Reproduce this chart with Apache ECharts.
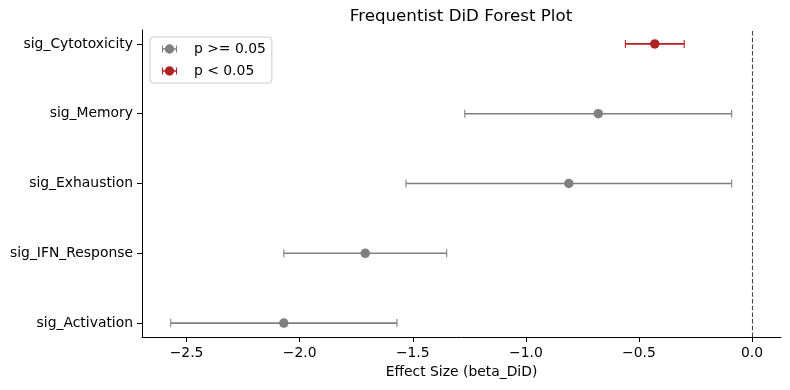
<!DOCTYPE html>
<html>
<head>
<meta charset="utf-8">
<script src="https://cdn.jsdelivr.net/npm/echarts@6/dist/echarts.min.js"></script>
<style>html,body{margin:0;padding:0;background:#fff;}#c{width:790px;height:390px;}</style>
</head>
<body>
<div id="c"></div>
<script>
// Categories listed bottom to top
const categories = ['sig_Activation', 'sig_IFN_Response', 'sig_Exhaustion', 'sig_Memory', 'sig_Cytotoxicity'];
const estimates = [-2.07, -1.71, -0.81, -0.68, -0.43];
const ciLow = [-2.57, -2.07, -1.53, -1.27, -0.56];
const ciHigh = [-1.57, -1.35, -0.09, -0.09, -0.30];
const significant = [false, false, false, false, true];
const xTicks = [-2.5, -2.0, -1.5, -1.0, -0.5, 0.0];
const yTicks = [0, 1, 2, 3, 4];

const GRAY = '#808080';
const RED = '#b22222';
const NAME_NS = 'p >= 0.05';
const NAME_S = 'p < 0.05';
const FONT = 'DejaVu Sans';

const ptsNS = [], ptsS = [], barsNS = [], barsS = [];
categories.forEach((c, i) => {
  if (significant[i]) {
    ptsS.push([estimates[i], i]);
    barsS.push([ciLow[i], ciHigh[i], i]);
  } else {
    ptsNS.push([estimates[i], i]);
    barsNS.push([ciLow[i], ciHigh[i], i]);
  }
});

function errRender(color) {
  return function (params, api) {
    const lo = api.coord([api.value(0), api.value(2)]);
    const hi = api.coord([api.value(1), api.value(2)]);
    const cap = 4;
    return {
      type: 'group',
      children: [
        { type: 'line', shape: { x1: lo[0], y1: lo[1], x2: hi[0], y2: hi[1] }, style: { stroke: color, lineWidth: 1.7 } },
        { type: 'line', shape: { x1: lo[0], y1: lo[1] - cap, x2: lo[0], y2: lo[1] + cap }, style: { stroke: color, lineWidth: 1.1 } },
        { type: 'line', shape: { x1: hi[0], y1: hi[1] - cap, x2: hi[0], y2: hi[1] + cap }, style: { stroke: color, lineWidth: 1.1 } }
      ]
    };
  };
}

const ICON = 'path://M0 4.3 H16 V5.7 H0 Z M0 1.3 H1.1 V8.7 H0 Z M14.9 1.3 H16 V8.7 H14.9 Z M3 5 A5 5 0 1 1 13 5 A5 5 0 1 1 3 5 Z';

const fmt = v => (v < 0 ? '\u2212' : '') + Math.abs(v).toFixed(1);

const chart = echarts.init(document.getElementById('c'), null, { renderer: 'canvas' });
chart.setOption({
  animation: false,
  backgroundColor: '#fff',
  textStyle: { fontFamily: FONT },
  title: {
    text: 'Frequentist DiD Forest Plot',
    left: 461,
    textAlign: 'center',
    top: 8,
    padding: 0,
    textStyle: { fontFamily: FONT, fontSize: 16.7, fontWeight: 'normal', color: '#000' }
  },
  legend: {
    orient: 'vertical',
    left: 150,
    top: 37,
    padding: [4, 6, 4, 12],
    itemGap: 6,
    itemWidth: 15,
    itemHeight: 9.5,
    borderColor: '#cccccc',
    borderWidth: 1,
    borderRadius: 3,
    backgroundColor: '#fff',
    selectedMode: false,
    textStyle: { fontFamily: FONT, fontSize: 13.9, color: '#000', lineHeight: 16, padding: [0, 0, 0, 12] },
    data: [
      { name: NAME_NS, icon: ICON, itemStyle: { color: GRAY } },
      { name: NAME_S, icon: ICON, itemStyle: { color: RED } }
    ]
  },
  grid: { left: 142, right: 9, top: 30, bottom: 53, containLabel: false },
  xAxis: {
    type: 'value',
    min: -2.697,
    max: 0.128,
    name: 'Effect Size (beta_DiD)',
    nameLocation: 'middle',
    nameGap: 27,
    nameTextStyle: { fontFamily: FONT, fontSize: 13.9, color: '#000' },
    axisLine: { show: true, onZero: false, lineStyle: { color: '#000', width: 1 } },
    axisTick: { show: true, length: 5, inside: false, customValues: xTicks, lineStyle: { color: '#000', width: 1 } },
    axisLabel: { customValues: xTicks, margin: 9, fontFamily: FONT, fontSize: 13.9, color: '#000', formatter: fmt },
    splitLine: { show: false }
  },
  yAxis: {
    type: 'value',
    min: -0.2,
    max: 4.2,
    axisLine: { show: true, onZero: false, lineStyle: { color: '#000', width: 1 } },
    axisTick: { show: true, length: 5, inside: false, customValues: yTicks, lineStyle: { color: '#000', width: 1 } },
    axisLabel: { customValues: yTicks, margin: 9, fontFamily: FONT, fontSize: 13.9, color: '#000', formatter: v => categories[Math.round(v)] },
    splitLine: { show: false }
  },
  series: [
    {
      type: 'custom', name: NAME_NS, data: barsNS, renderItem: errRender(GRAY),
      itemStyle: { color: GRAY }, encode: { x: [0, 1], y: 2 }, silent: true, z: 3,
      markLine: {
        silent: true, symbol: ['none', 'none'], label: { show: false },
        lineStyle: { color: '#444', width: 1.1, type: [4.5, 2.2] },
        data: [{ xAxis: 0 }]
      }
    },
    {
      type: 'custom', name: NAME_S, data: barsS, renderItem: errRender(RED),
      itemStyle: { color: RED }, encode: { x: [0, 1], y: 2 }, silent: true, z: 3
    },
    {
      type: 'scatter', name: NAME_NS, data: ptsNS, symbol: 'circle', symbolSize: 9.5,
      itemStyle: { color: GRAY, opacity: 1 }, z: 4, silent: true
    },
    {
      type: 'scatter', name: NAME_S, data: ptsS, symbol: 'circle', symbolSize: 9.5,
      itemStyle: { color: RED, opacity: 1 }, z: 4, silent: true
    }
  ]
});
</script>
</body>
</html>
